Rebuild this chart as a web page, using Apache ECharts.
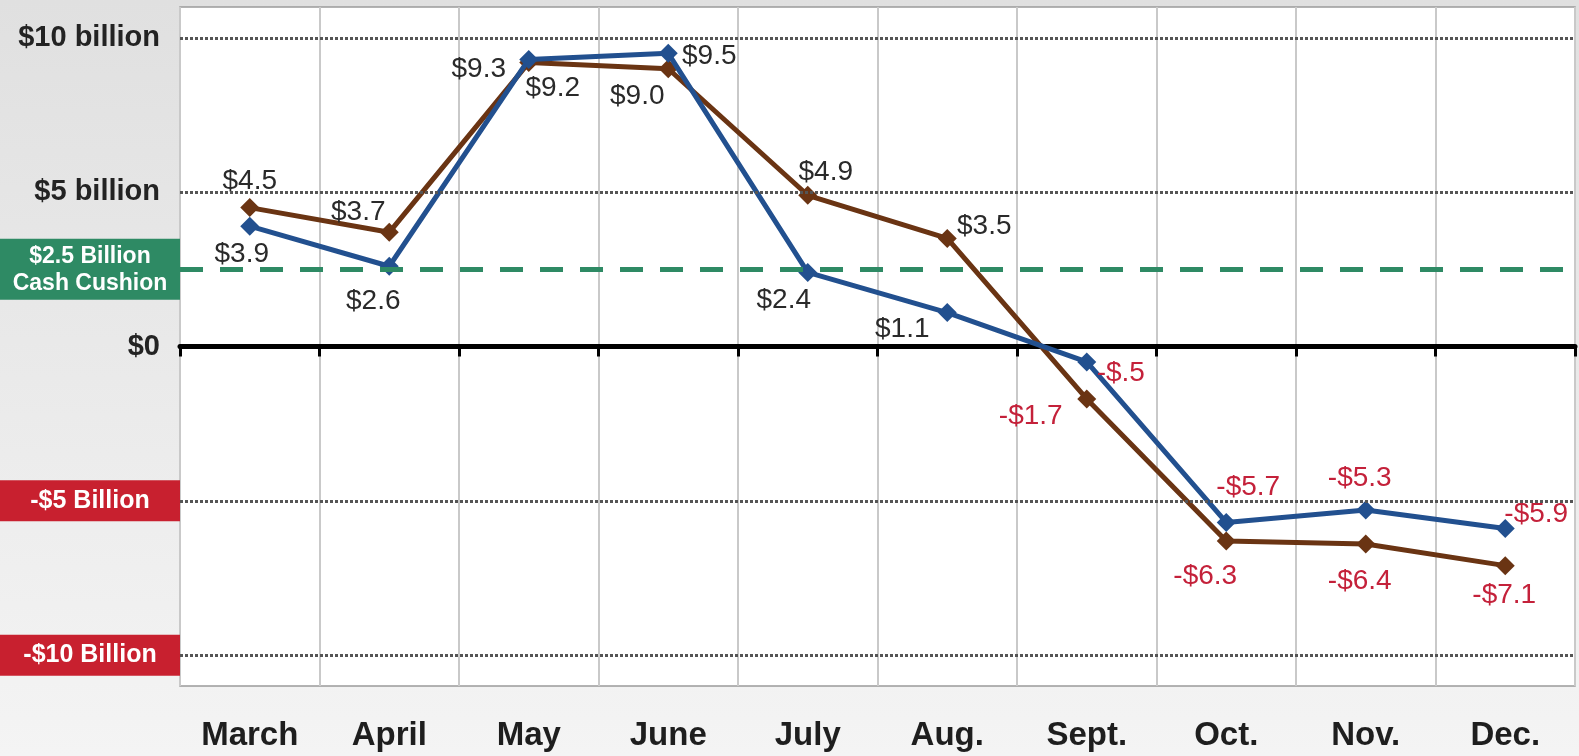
<!DOCTYPE html>
<html>
<head>
<meta charset="utf-8">
<script src="https://cdn.jsdelivr.net/npm/echarts@6/dist/echarts.min.js"></script>
<style>
html,body{margin:0;padding:0;background:#f2f2f2;}
#chart{width:1579px;height:756px;}
</style>
</head>
<body>
<div id="chart"></div>
<script>
// ---- data ----
const months = ['March','April','May','June','July','Aug.','Sept.','Oct.','Nov.','Dec.'];
const blueSeries  = [3.9, 2.6, 9.3, 9.5, 2.4, 1.1, -0.5, -5.7, -5.3, -5.9];
const brownSeries = [4.5, 3.7, 9.2, 9.0, 4.9, 3.5, -1.7, -6.3, -6.4, -7.1];
const yTicks = [-10, -5, 0, 5, 10];
const yTickLabels = ['-$10 Billion', '-$5 Billion', '$0', '$5 billion', '$10 billion'];
const cushionValue = 2.5;
const cushionLabel = ['$2.5 Billion', 'Cash Cushion'];

// ---- label placement (layout only) ----
const blueLabelOffsets  = [[-8,28],[-16,35],[-50,10],[41,3],[-24,28],[-45,17],[34,11],[22,-35],[-6,-32],[31,-14]];
const brownLabelOffsets = [[0,-26],[-31,-20],[24,26],[-31,28],[18,-23],[37,-12],[-56,17],[-21,35],[-6,37],[-1,30]];

const BLUE = '#22508f';
const BROWN = '#6a3413';
const POS_TXT = '#2a2a2a';
const NEG_TXT = '#c4213a';
const FONT = 'Liberation Sans, Arial, sans-serif';

function fmt(v){
  const a = Math.abs(v);
  let s = a.toFixed(1);
  if (a < 1) s = s.slice(1);
  return (v < 0 ? '-$' : '$') + s;
}
function buildData(vals, offs){
  return vals.map((v,i)=>({
    value: v,
    label: { offset: offs[i], color: v < 0 ? NEG_TXT : POS_TXT }
  }));
}

const chart = echarts.init(document.getElementById('chart'));

const gridLines = yTicks.filter(v => v !== 0).map(v => ({
  yAxis: v,
  lineStyle: { color: '#555', width: 3, type: [3, 2] },
  label: { show: false }
}));
gridLines.push({
  yAxis: cushionValue,
  lineStyle: { color: '#2e8a64', width: 5, type: [23, 17] },
  label: {
    show: true,
    position: 'start',
    distance: 0,
    formatter: cushionLabel.map(s => '{t|' + s + '}').join('\n'),
    backgroundColor: '#2e8a64',
    padding: [4, 0, 3, 0],
    rich: {
      t: { width: 180, align: 'center', color: '#fff', fontWeight: 'bold', fontSize: 23, lineHeight: 27, fontFamily: FONT }
    }
  }
});

const option = {
  animation: false,
  backgroundColor: {
    type: 'linear', x: 0, y: 0, x2: 0, y2: 1,
    colorStops: [{ offset: 0, color: '#e0e0e0' }, { offset: 1, color: '#f4f4f4' }]
  },
  textStyle: { fontFamily: FONT },
  grid: {
    left: 180, right: 4, top: 7, bottom: 70,
    outerBoundsMode: 'none',
    containLabel: false,
    show: true, backgroundColor: '#ffffff', borderColor: '#9a9a9a', borderWidth: 1.5
  },
  xAxis: [
    {
      type: 'category', data: months, position: 'bottom',
      axisLine: { show: false, onZero: false },
      axisTick: { show: false },
      axisLabel: { interval: 0, margin: 33, fontSize: 33, fontWeight: 'bold', color: '#1e1e1e' },
      splitLine: { show: true, lineStyle: { color: '#c9c9c9', width: 2 } }
    },
    {
      type: 'category', data: months, position: 'bottom',
      axisLine: { show: true, onZero: true, lineStyle: { color: '#000', width: 5 } },
      axisTick: { show: true, length: 10, lineStyle: { color: '#000', width: 3 } },
      axisLabel: { show: false },
      splitLine: { show: false }
    }
  ],
  yAxis: {
    type: 'value', min: -11, max: 11,
    axisLine: { show: false }, axisTick: { show: false },
    splitLine: { show: false },
    axisLabel: {
      customValues: yTicks,
      margin: 0,
      formatter: function(v){
        const i = yTicks.indexOf(v);
        if (i < 0) return '';
        return v < 0 ? '{neg|' + yTickLabels[i] + '}' : '{pos|' + yTickLabels[i] + '}';
      },
      rich: {
        pos: { fontSize: 29, fontWeight: 'bold', color: '#232323', padding: [0, 20, 0, 0], fontFamily: FONT },
        neg: { width: 180, height: 41, align: 'center', backgroundColor: '#c8202f', color: '#fff', fontSize: 25, fontWeight: 'bold', fontFamily: FONT }
      }
    }
  },
  series: [
    {
      name: 'brown', type: 'line', xAxisIndex: 0,
      data: buildData(brownSeries, brownLabelOffsets),
      symbol: 'diamond', symbolSize: 19,
      lineStyle: { color: BROWN, width: 5 },
      itemStyle: { color: BROWN },
      label: { show: true, position: 'inside', fontSize: 28, formatter: p => fmt(p.value) },
      markLine: { silent: true, symbol: 'none', animation: false, data: gridLines },
      z: 3
    },
    {
      name: 'blue', type: 'line', xAxisIndex: 0,
      data: buildData(blueSeries, blueLabelOffsets),
      symbol: 'diamond', symbolSize: 19,
      lineStyle: { color: BLUE, width: 5 },
      itemStyle: { color: BLUE },
      label: { show: true, position: 'inside', fontSize: 28, formatter: p => fmt(p.value) },
      z: 4
    }
  ]
};
chart.setOption(option);
</script>
</body>
</html>
